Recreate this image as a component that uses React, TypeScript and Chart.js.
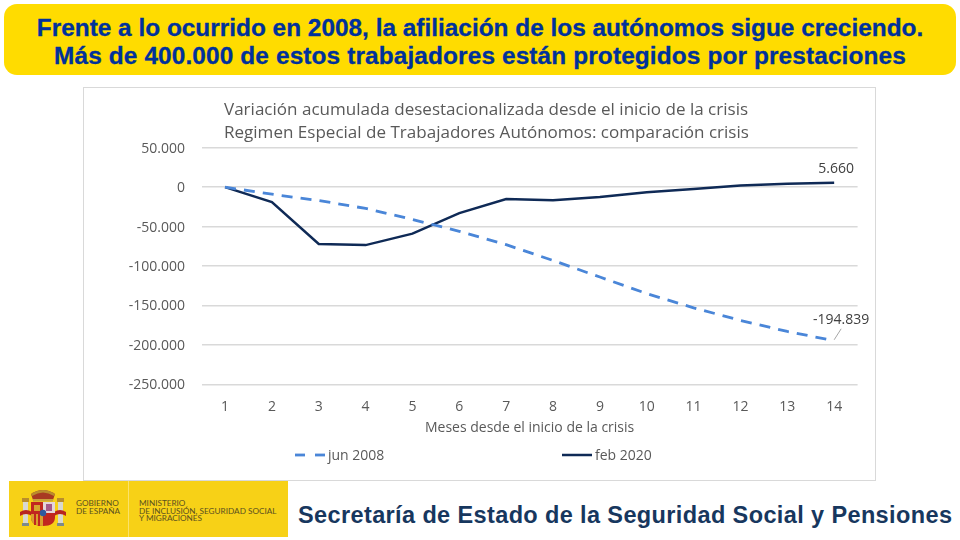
import { useEffect, useRef } from 'react'
import { Chart, registerables } from 'chart.js'

Chart.register(...registerables)

const months = ['1', '2', '3', '4', '5', '6', '7', '8', '9', '10', '11', '12', '13', '14']
const jun2008 = [0, -9000, -17000, -27000, -41000, -56000, -73000, -93000, -114000, -135000, -153000, -169000, -183000, -194839]
const feb2020 = [0, -19000, -72000, -73500, -59000, -33000, -15000, -16500, -12500, -6500, -2500, 2000, 4200, 5660]
const titleLines = [
  'Variación acumulada desestacionalizada desde el inicio de la crisis',
  'Regimen Especial de Trabajadores Autónomos: comparación crisis',
]
const xTitle = 'Meses desde el inicio de la crisis'

const FONT = "'Open Sans'"
const GREY = '#595959'
const fmt = (v: number) => Math.abs(v).toString().replace(/\B(?=(\d{3})+$)/g, '.')
const signed = (v: number) => (v < 0 ? '-' : '') + fmt(v)

// title, legend and the two end labels
const extras = {
  id: 'extras',
  afterDraw(chart: any) {
    const c = chart.ctx
    c.save()
    c.fillStyle = GREY
    c.font = `17.05px ${FONT}`
    c.textAlign = 'left'
    c.textBaseline = 'middle'
    c.fillText(titleLines[0], 140, 22.5)
    c.fillText(titleLines[1], 140, 45.5)

    // legend
    const legendX = [211, 478]
    const legendW = [30, 30]
    chart.data.datasets.forEach((ds: any, i: number) => {
      c.save()
      c.strokeStyle = ds.borderColor
      c.lineWidth = ds.borderWidth
      c.setLineDash(ds.borderDash ? [10, 10] : [])
      c.beginPath()
      c.moveTo(legendX[i], 367)
      c.lineTo(legendX[i] + legendW[i], 367)
      c.stroke()
      c.restore()
      c.font = `14px ${FONT}`
      c.fillText(ds.label, legendX[i] + legendW[i] + 3, 368)
    })

    // end labels
    const { x, y } = chart.scales
    const last = months.length - 1
    c.font = `14px ${FONT}`
    c.fillStyle = '#404040'
    c.textAlign = 'center'
    c.fillText(signed(feb2020[last]), x.getPixelForValue(last) + 2, y.getPixelForValue(feb2020[last]) - 14)
    const px = x.getPixelForValue(last)
    const py = y.getPixelForValue(jun2008[last])
    c.fillText(signed(jun2008[last]), px + 7, py - 21)
    c.strokeStyle = '#a6a6a6'
    c.lineWidth = 1
    c.beginPath()
    c.moveTo(px, py - 1)
    c.lineTo(px + 7, py - 12)
    c.stroke()
    c.restore()
  },
}

function CrisisChart() {
  const canvasRef = useRef<HTMLCanvasElement>(null)

  useEffect(() => {
    if (!canvasRef.current) return
    const chart = new Chart(canvasRef.current, {
      type: 'line',
      plugins: [extras],
      data: {
        labels: months,
        datasets: [
          { label: 'jun 2008', data: jun2008, borderColor: '#4a86d8', borderWidth: 2.8, borderDash: [11, 8.08], pointRadius: 0, tension: 0, fill: false },
          { label: 'feb 2020', data: feb2020, borderColor: '#0f2a56', borderWidth: 2.5, pointRadius: 0, tension: 0, fill: false },
        ],
      },
      options: {
        responsive: false,
        animation: false,
        layout: { padding: { top: 59.7, right: 17.4, bottom: 43.5, left: 0 } },
        plugins: { legend: { display: false }, title: { display: false }, tooltip: { enabled: false } },
        scales: {
          x: {
            offset: true,
            grid: { display: false },
            border: { display: false },
            ticks: { color: GREY, font: { family: FONT, size: 14 }, padding: 6, maxRotation: 0 },
            title: { display: true, text: xTitle, color: GREY, font: { family: FONT, size: 14 }, padding: { top: 4, bottom: 0 } },
            afterFit: (s: any) => { s.height = 52.2 },
          },
          y: {
            min: -250000,
            max: 50000,
            grid: { color: '#d9d9d9', lineWidth: 1.5, drawTicks: false },
            border: { display: false },
            ticks: { stepSize: 50000, color: GREY, font: { family: FONT, size: 14 }, padding: 16.6, labelOffset: 1, callback: (v: any) => signed(Number(v)) },
            afterFit: (s: any) => { s.width = 117.6 },
          },
        },
      },
    })
    return () => { chart.destroy() }
  }, [])

  return <canvas ref={canvasRef} width={791} height={392} style={{ display: 'block', width: 791, height: 392 }} />
}

// simplified coat of arms, in page coordinates
function Crest() {
  return (
    <svg width="52" height="45" viewBox="18 485 52 45" style={{ position: 'absolute', left: 9, top: 4 }}>
      <rect x="23" y="502" width="5" height="21" fill="#d8d8d0" />
      <rect x="58" y="502" width="5" height="21" fill="#d8d8d0" />
      <rect x="22" y="498" width="7" height="4" fill="#b98d2c" />
      <rect x="57" y="498" width="7" height="4" fill="#b98d2c" />
      <rect x="22" y="523" width="7" height="3" fill="#7d8a8a" />
      <rect x="57" y="523" width="7" height="3" fill="#7d8a8a" />
      <path d="M20 512 Q26 508 32 512 L32 516 Q26 512 20 516 Z" fill="#b8241f" />
      <path d="M54 512 Q60 508 66 512 L66 516 Q60 512 54 516 Z" fill="#b8241f" />
      <path d="M31 494 Q43 486 55 494 L53 500 H33 Z" fill="#a83a22" />
      <path d="M31 494 Q43 486 55 494 L54 496 Q43 489 32 496 Z" fill="#b98d2c" />
      <rect x="33" y="499" width="20" height="2.5" fill="#c9a13a" />
      <path d="M31 502 H55 V517 Q55 526 43 526 Q31 526 31 517 Z" fill="#c1271f" />
      <rect x="43" y="502" width="12" height="11" fill="#e4d6da" />
      <rect x="46" y="504" width="6" height="7" fill="#a55a8a" />
      <rect x="34" y="505" width="6" height="6" fill="#d6a62e" />
      <path d="M31 514 H43 V526 Q31 526 31 517 Z" fill="#d9a02c" />
      <rect x="34" y="514" width="2" height="11" fill="#c1271f" />
      <rect x="38" y="514" width="2" height="12" fill="#c1271f" />
      <circle cx="43" cy="513" r="3.2" fill="#2f5a9e" />
    </svg>
  )
}

export default function App() {
  const small: React.CSSProperties = { position: 'absolute', fontFamily: 'Lato', fontSize: 8.2, lineHeight: '7.7px', color: '#5a5020', whiteSpace: 'pre' }
  return (
    <div style={{ position: 'fixed', left: 0, top: 0, width: 960, height: 540, background: '#fff', overflow: 'hidden' }}>
      <div style={{
        position: 'absolute', left: 4, top: 4, width: 952, height: 71, background: '#ffdc00', borderRadius: 13,
        color: '#00319b', fontFamily: "'Liberation Sans'", fontWeight: 700, fontSize: 24.4, lineHeight: '28px',
        textAlign: 'center', paddingTop: 10, boxSizing: 'border-box', whiteSpace: 'nowrap', WebkitTextStroke: '0.3px #00319b',
      }}>
        <div>Frente a lo ocurrido en 2008, la afiliación de los autónomos sigue creciendo.</div>
        <div style={{ letterSpacing: 0.125 }}>Más de 400.000 de estos trabajadores están protegidos por prestaciones</div>
      </div>

      <div style={{ position: 'absolute', left: 83, top: 87, width: 793, height: 394, border: '1px solid #d9d9d9', boxSizing: 'border-box' }}>
        <CrisisChart />
      </div>

      <div style={{ position: 'absolute', left: 9, top: 481, width: 279, height: 56, background: '#f7d117' }}>
        <Crest />
        <div style={{ position: 'absolute', left: 119, top: 0, width: 1, height: 56, background: '#fbe26a' }} />
        <div style={{ ...small, left: 67, top: 19 }}>{'GOBIERNO\nDE ESPAÑA'}</div>
        <div style={{ ...small, left: 130, top: 19 }}>{'MINISTERIO\nDE INCLUSIÓN, SEGURIDAD SOCIAL\nY MIGRACIONES'}</div>
      </div>

      <div style={{ position: 'absolute', left: 298, top: 500, color: '#17375e', fontFamily: "'Liberation Sans'", fontWeight: 700, fontSize: 23.5, letterSpacing: 0.38, lineHeight: '30px', whiteSpace: 'nowrap' }}>
        Secretaría de Estado de la Seguridad Social y Pensiones
      </div>
    </div>
  )
}
